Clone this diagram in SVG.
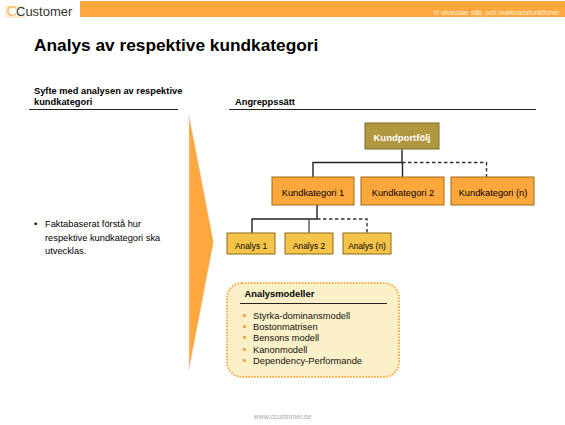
<svg xmlns="http://www.w3.org/2000/svg" width="565" height="425" viewBox="0 0 565 425">
<style>
text{font-family:"Liberation Sans",Arial,sans-serif;fill:#000}
.h{font-size:9.3px;font-weight:700}
.b{font-size:9.3px}
.n{text-anchor:middle}
.cat rect{fill:#fda73c;stroke:#9b6a14;stroke-width:1}
.an rect{fill:#f6c44a;stroke:#8a6a14;stroke-width:1}
.s{fill:none;stroke:#222;stroke-width:1.4}
.d{fill:none;stroke:#333;stroke-width:1.4;stroke-dasharray:3.500 2.500}
.rule{stroke:#222;stroke-width:1}
.li{font-size:9.300px;fill:#111}
.bl{fill:#fda73c}
</style>
<rect width="565" height="425" fill="#fff"/>
<g id="header">
<rect x="80" y="1" width="485" height="16" fill="#fda73c"/>
<path d="M25 7H6v10h19" fill="none" stroke="#fbd49a" stroke-width="1"/>
<rect x="5.500" y="5" width="7" height="11.500" fill="#fdeed8" opacity=".6"/>
<text x="6.500" y="16" font-size="14.500" style="fill:#f7b960">C</text>
<text x="16" y="16.300" font-size="13" style="fill:#333">Customer</text>
<text x="433" y="15" font-size="6.950" style="fill:#fff3df">Vi utvecklar sälj- och marknadsfunktioner</text>
</g>
<text x="34" y="51" font-size="17.300" font-weight="700">Analys av respektive kundkategori</text>
<g id="left-head">
<text class="h" x="34" y="94">Syfte med analysen av respektive</text>
<text class="h" x="34" y="105">kundkategori</text>
<line class="rule" x1="29" y1="109.500" x2="178" y2="109.500"/>
</g>
<g id="right-head">
<text class="h" x="235" y="105">Angreppssätt</text>
<line class="rule" x1="229" y1="109.500" x2="536" y2="109.500"/>
</g>
<polygon id="arrow" points="189,115 213.500,242 189,370" fill="#fda73c" stroke="#ddd" stroke-width=".6"/>
<g id="bullets">
<text class="b" x="34" y="227">•</text>
<text class="b" x="45" y="227">Faktabaserat förstå hur</text>
<text class="b" x="45" y="241">respektive kundkategori ska</text>
<text class="b" x="45" y="254">utvecklas.</text>
</g>
<g id="connectors">
<path class="s" d="M402 149.500V163M402 162.500H313V177"/>
<path class="s" d="M402.500 163V177"/>
<path class="d" d="M402 162.500H486.500V177"/>
<path class="s" d="M317 205V219M317 219H252V233"/>
<path class="s" d="M309 219V233" style="stroke:#555"/>
<path class="d" d="M317 219H367V233"/>
</g>
<g id="n-portfolj"><rect x="365" y="123" width="74" height="26" fill="#b29741" stroke="#7c6a2c" stroke-width="1"/><text class="n" x="402" y="141" font-size="9.500" font-weight="700" style="fill:#fff">Kundportfölj</text></g>
<g id="n-k1" class="cat"><rect x="272" y="177" width="82" height="28"/><text class="n b" x="313" y="196">Kundkategori 1</text></g>
<g id="n-k2" class="cat"><rect x="361" y="177" width="83" height="28"/><text class="n b" x="403" y="196">Kundkategori 2</text></g>
<g id="n-kn" class="cat"><rect x="451" y="177" width="83" height="28"/><text class="n b" x="493" y="196">Kundkategori (n)</text></g>
<g id="n-a1" class="an"><rect x="227" y="233" width="48" height="21"/><text class="n" x="251" y="249" font-size="8.400">Analys 1</text></g>
<g id="n-a2" class="an"><rect x="285" y="233" width="48" height="21"/><text class="n" x="309" y="249" font-size="8.400">Analys 2</text></g>
<g id="n-an" class="an"><rect x="343" y="233" width="48" height="21"/><text class="n" x="367" y="249" font-size="8.400">Analys (n)</text></g>
<g id="modeller">
<rect x="227" y="283" width="172" height="94" rx="15" fill="#fbf0c8" stroke="#fda73c" stroke-width="2" stroke-dasharray="1.500 1.500"/>
<text x="244.500" y="297" font-size="9.400" font-weight="700">Analysmodeller</text>
<line class="rule" x1="240" y1="303.500" x2="387" y2="303.500"/>
<rect class="bl" x="243" y="314" width="3" height="3"/><text class="li" x="253" y="319">Styrka-dominansmodell</text>
<rect class="bl" x="243" y="325" width="3" height="3"/><text class="li" x="253" y="330">Bostonmatrisen</text>
<rect class="bl" x="243" y="336" width="3" height="3"/><text class="li" x="253" y="341">Bensons modell</text>
<rect class="bl" x="243" y="348" width="3" height="3"/><text class="li" x="253" y="353">Kanonmodell</text>
<rect class="bl" x="243" y="359" width="3" height="3"/><text class="li" x="253" y="364">Dependency-Performande</text>
</g>
<text x="282.500" y="419" font-size="7" text-anchor="middle" style="fill:#aaa">www.ccustomer.se</text>
</svg>
